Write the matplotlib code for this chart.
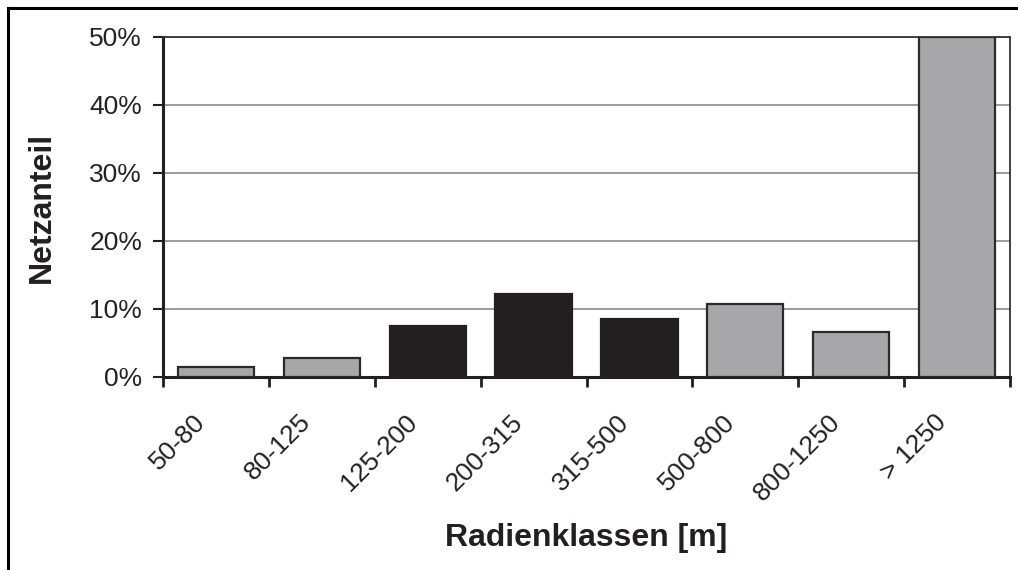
import matplotlib.pyplot as plt
import numpy as np
from matplotlib.lines import Line2D
from matplotlib.ticker import FuncFormatter, MultipleLocator
import matplotlib.transforms as mtransforms

plt.rcParams['font.family'] = ['Liberation Sans', 'DejaVu Sans']

categories = ["50-80", "80-125", "125-200", "200-315", "315-500",
              "500-800", "800-1250", "> 1250"]
values = [1.45, 2.75, 7.55, 12.2, 8.6, 10.8, 6.6, 50.0]
highlight = [False, False, True, True, True, False, False, False]

GRAY = "#a7a7aa"
BLACK = "#231f20"

fig = plt.figure(figsize=(10.18, 5.70), dpi=100)
ax = fig.add_axes([163 / 1018, 1 - 377 / 570, (1010 - 163) / 1018, (377 - 37) / 570])

x = np.arange(len(categories)) + 0.5
colors = [BLACK if h else GRAY for h in highlight]
edges = [BLACK if h else "#2a2a2a" for h in highlight]
ax.bar(x, values, width=0.72, color=colors, edgecolor=edges, linewidth=1.6, zorder=3)

ax.set_xlim(0, len(categories))
ax.set_ylim(0, 50)
ax.yaxis.set_major_locator(MultipleLocator(10))
ax.yaxis.set_major_formatter(FuncFormatter(lambda v, _: f"{v:.0f}%"))
ax.grid(axis="y", color="#8a8a8a", linewidth=1.2, zorder=0)

# category boundaries carry the tick marks, labels sit under each bar
ax.set_xticks(np.arange(len(categories) + 1))
ax.set_xticklabels([])
label_tf = ax.get_xaxis_transform() + mtransforms.ScaledTranslation(
    -23 / 100, -33 / 100, fig.dpi_scale_trans)
for xi, name in zip(x, categories):
    ax.text(xi, 0, name, transform=label_tf, rotation=45, ha="right", va="top",
            rotation_mode="anchor", fontsize=19, color="#222222")

ax.tick_params(axis="x", which="major", length=7, width=2, direction="out", color=BLACK)
ax.tick_params(axis="y", length=7, width=1.5, direction="out", color=BLACK,
               labelsize=19, labelcolor="#222222", pad=8)

for side in ("left", "bottom"):
    ax.spines[side].set_linewidth(2.2)
    ax.spines[side].set_color(BLACK)
for side in ("top", "right"):
    ax.spines[side].set_linewidth(1.3)
    ax.spines[side].set_color("#333333")

ax.set_ylabel("Netzanteil", fontsize=23, fontweight="bold", color=BLACK)
ax.yaxis.set_label_coords(-(163 - 42) / 847, 0.5)
ax.set_xlabel("Radienklassen [m]", fontsize=23, fontweight="bold", color=BLACK)
ax.xaxis.set_label_coords(0.5, -(538 - 377) / 340)
ax.xaxis.label.set_va("center")
ax.yaxis.label.set_va("center")

# outer frame lines (top and left)
fig.add_artist(Line2D([8 / 1018, 1.0], [1 - 8 / 570, 1 - 8 / 570],
                      color="black", linewidth=2.2, transform=fig.transFigure))
fig.add_artist(Line2D([8 / 1018, 8 / 1018], [0.0, 1 - 8 / 570],
                      color="black", linewidth=2.2, transform=fig.transFigure))

fig.savefig("out.png", dpi=100)
